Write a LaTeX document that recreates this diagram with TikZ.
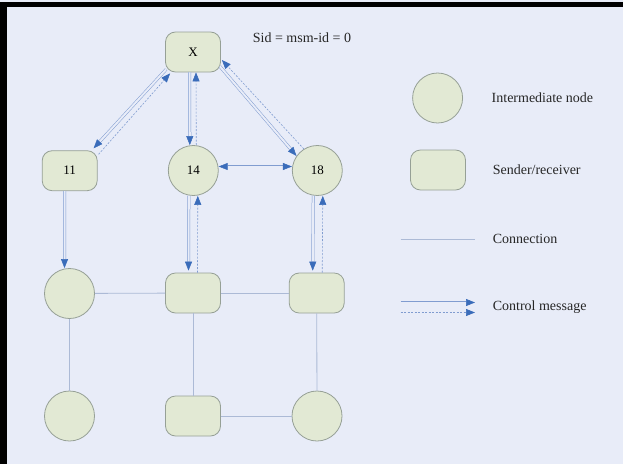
\documentclass[tikz,border=0pt]{standalone}
\usepackage{fontspec}
\setmainfont{Liberation Serif}
\usetikzlibrary{arrows.meta,calc}

\definecolor{bgcol}{RGB}{232,236,248}
\definecolor{nodefill}{RGB}{226,233,212}
\definecolor{nodeline}{RGB}{150,160,150}
\definecolor{linkcol}{RGB}{172,186,214}
\definecolor{msgcol}{RGB}{128,156,208}
\definecolor{tipcol}{RGB}{58,108,186}

\begin{document}
\begin{tikzpicture}[x=1pt,y=-1pt,
  >={Triangle[length=9pt,width=7pt,color=tipcol]},
  inter/.style={circle,draw=nodeline,fill=nodefill,line width=0.8pt,
    minimum size=50pt,inner sep=0pt,font=\fontsize{13}{15}\selectfont},
  sendrec/.style={rectangle,rounded corners=10pt,draw=nodeline,fill=nodefill,
    line width=0.8pt,minimum width=55pt,minimum height=40pt,inner sep=0pt,
    font=\fontsize{13}{15}\selectfont},
  link/.style={draw=linkcol,line width=0.8pt},
  msg/.style={draw=msgcol,line width=0.5pt,double=bgcol,double distance=2pt,->},
  msgback/.style={draw=msgcol,line width=0.6pt,dash pattern=on 2pt off 1.5pt,->},
  lbl/.style={anchor=west,inner sep=0pt,font=\fontsize{14}{16}\selectfont,text=black!85}
]
\useasboundingbox (0,0) rectangle (623,463);

% background (slightly oversized so the page edges stay filled) and frame
\fill[bgcol] (-10,-10) rectangle (640,480);
\fill[black] (-10,-10) rectangle (640,7);
\fill[bgcol] (-10,-10) rectangle (640,1.5);
\fill[black] (-10,1.5) rectangle (6.5,480);

% network nodes
\node[sendrec] (X)   at (193,52)      {X};
\node[sendrec] (n11) at (69.7,170.7)  {11};
\node[inter]   (n14) at (193.3,170.5) {14};
\node[inter]   (n18) at (317.3,170.5) {18};
\node[inter]   (c1)  at (69.5,293.5)  {};
\node[sendrec] (s2)  at (193,293)     {};
\node[sendrec] (s3)  at (316.7,293)   {};
\node[inter]   (c4)  at (69.5,416)    {};
\node[sendrec] (s5)  at (193,416)     {};
\node[inter]   (c6)  at (317,416)     {};

\node[font=\fontsize{14}{16}\selectfont,text=black!85] (sid) at (302,38) {Sid = msm-id = 0};

% connections
\draw[link] (c1) -- (s2);
\draw[link] (s2) -- (s3);
\draw[link] (c1) -- (c4);
\draw[link] (s2) -- (s5);
\draw[link] (s3) -- (c6);
\draw[link] (s5) -- (c6);

% control messages
\draw[msg] ($(X.south west)+(1,-3)$) -- ($(n11.north east)+(-4,-2)$);
\draw[msgback] ($(n11.north east)+(1,4)$) -- ($(X.south west)+(5,1)$);

\draw[msg] ([xshift=-3.5pt]X.south) -- ([xshift=-3.5pt]n14.north);
\draw[msgback] ([xshift=3pt]n14.north) -- ([xshift=3pt]X.south);

\draw[msg] ($(X.south east)+(-1,-6)$) -- (n18.145);
\draw[msgback] (n18.122) -- ($(X.east)+(1,8)$);

\draw[msg,<->] ([yshift=4pt]n14.east) -- ([yshift=4pt]n18.west);

\draw[msg] ([xshift=-5pt]n11.south) -- ([xshift=-5pt]c1.north);

\draw[msg] ([xshift=-4.5pt]n14.south) -- ([xshift=-4.5pt,yshift=2pt]s2.north);
\draw[msgback] ([xshift=4.5pt]s2.north) -- ([xshift=4.5pt]n14.south);

\draw[msg] ([xshift=-4pt]n18.south) -- ([xshift=-4pt,yshift=2pt]s3.north);
\draw[msgback] ([xshift=5.5pt]s3.north) -- ([xshift=5.5pt]n18.south);

% legend
\node[inter]   (lgI) at (437.6,98) {};
\node[sendrec] (lgS) at (438,170)  {};
\node[lbl] (tI) at (491.5,98)  {Intermediate node};
\node[lbl] (tS) at (492.6,170) {Sender/receiver};
\coordinate (lc1) at (400.5,239);
\coordinate (lc2) at (474.8,239);
\draw[link] (lc1) -- (lc2);
\node[lbl] (tC) at (492.6,239) {Connection};
\coordinate (lm1) at (400.5,302.5);
\coordinate (lm2) at (475,302.5);
\coordinate (lm3) at (400.5,312.5);
\coordinate (lm4) at (475,312.5);
\draw[msg] (lm1) -- (lm2);
\draw[msgback] (lm3) -- (lm4);
\node[lbl] (tM) at (492.6,307) {Control message};
\end{tikzpicture}
\end{document}
